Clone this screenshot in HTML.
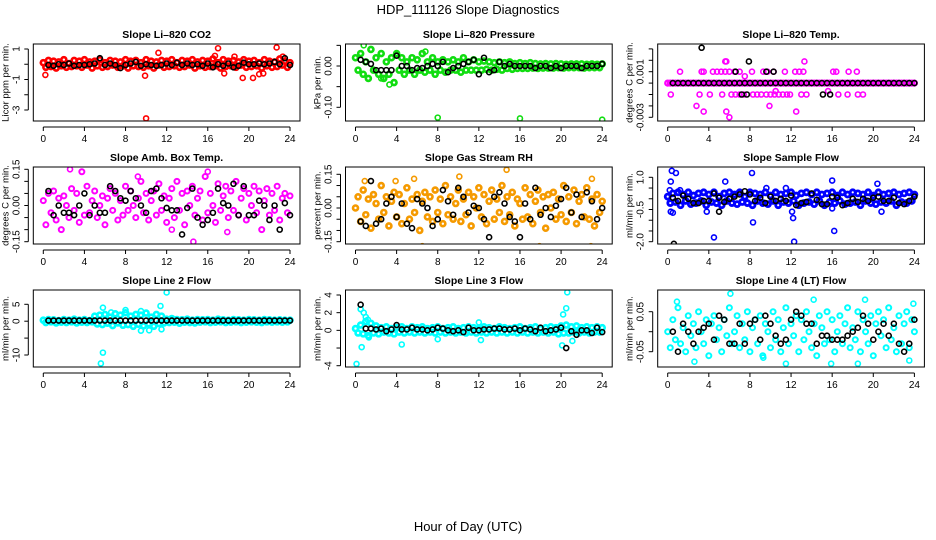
<!DOCTYPE html>
<html><head><meta charset="utf-8"><style>
html,body{margin:0;padding:0;background:#fff;}
svg{display:block;font-family:"Liberation Sans",Arial,sans-serif;}
</style></head>
<body>
<svg id="chart" width="936" height="540" viewBox="0 0 936 540" xmlns="http://www.w3.org/2000/svg">
<text x="468" y="14" text-anchor="middle" font-size="13">HDP_111126  Slope Diagnostics</text>
<text x="468" y="531" text-anchor="middle" font-size="13">Hour of Day (UTC)</text>
</svg>
<script>
const xTicks=[0,4,8,12,16,20,24];
// colored series: values every 15 min from 0 to 24 h
const co2Colored=[0.1,-0.2,0.25,-0.15,0.2,-0.25,0.15,-0.1,0.3,-0.2,0.05,-0.15,0.25,-0.1,0.2,-0.2,0.3,-0.05,0.15,-0.25,0.2,-0.1,0.3,-0.2,0.1,-0.15,0.25,-0.05,0.2,-0.2,0.15,-0.1,0.3,-0.25,0.2,-0.1,0.25,-0.15,0.1,-0.2,0.3,-0.1,0.2,-0.25,0.15,-0.05,0.25,-0.2,0.2,-0.15,0.3,-0.1,0.1,-0.2,0.25,-0.15,0.2,-0.05,0.3,-0.25,0.15,-0.1,0.25,-0.2,0.2,-0.15,0.35,-0.1,0.1,-0.25,0.3,-0.15,0.2,-0.1,0.25,-0.2,0.15,-0.05,0.3,-0.2,0.2,-0.15,0.25,-0.1,0.1,-0.25,0.3,-0.1,0.2,-0.2,0.15,-0.15,0.35,-0.05,0.2,-0.2,0.1];
const co2Black=[-0.05,-0.1,0.0,-0.05,0.05,-0.1,-0.05,-0.05,0.0,0.05,0.4,-0.05,0.05,-0.05,-0.25,-0.05,0.05,0.15,-0.1,0.0,-0.05,-0.1,-0.05,0.05,-0.05,0.1,-0.05,0.05,-0.05,0.0,-0.1,0.05,-0.2,0.0,-0.1,0.05,-0.2,-0.1,0.1,0.0,0.0,0.05,0.0,0.05,0.15,0.0,0.4,-0.05];
const co2OutX=[0.2,10,9.9,11.2,17,22.7,19.4,20.4,21,16.7,18.6,23.3,17.6,21.4];
const co2OutY=[-0.7,-3.55,-0.75,0.75,1.05,1.1,-0.9,-0.9,-0.65,0.55,0.5,0.5,-0.6,-0.6];

const presColored=[0.02,-0.01,0.03,-0.02,0.01,-0.03,0.04,-0.01,0.02,-0.02,0.03,-0.03,0.01,-0.02,0.02,-0.04,0.03,-0.01,0.02,-0.02,0.01,-0.01,0.02,-0.02,0.015,-0.01,0.03,-0.015,0.01,-0.01,0.02,-0.02,0.01,-0.01,0.015,-0.015,0.01,-0.01,0.015,-0.01,0.01,-0.015,0.02,-0.01,0.01,-0.01,0.015,-0.01,0.01,-0.01,0.012,-0.008,0.01,-0.01,0.008,-0.008,0.01,-0.01,0.008,-0.006,0.01,-0.008,0.006,-0.006,0.008,-0.006,0.006,-0.006,0.008,-0.005,0.006,-0.006,0.005,-0.005,0.006,-0.005,0.005,-0.005,0.006,-0.004,0.005,-0.005,0.004,-0.004,0.005,-0.004,0.005,-0.004,0.005,-0.005,0.004,-0.004,0.005,-0.004,0.004,-0.004,0.005];
const presBlack=[0.015,0.01,0.005,-0.01,-0.01,-0.01,-0.01,0.025,0.0,0.0,-0.01,-0.005,-0.005,0.0,0.005,0.0,0.01,-0.015,-0.005,0.0,0.005,0.01,0.015,-0.02,0.02,-0.015,-0.01,0.01,0.0,0.005,0.0,0.0,0.0,0.0,-0.005,0.0,0.0,-0.005,0.0,-0.005,0.0,0.0,0.0,-0.005,0.0,0.0,0.0,0.005];
const presOutX=[8,16,24,0.8,3.3,6.8,2.5];
const presOutY=[-0.125,-0.127,-0.13,0.05,-0.045,0.035,-0.03];

const tempColored=[0,0,0,0,0,0,0,0,0,0,0,0,0,0,0,0,0,0,0,0,0,0,0,0,0,0,0,0,0,0,0,0,0,0,0,0,0,0,0,0,0,0,0,0,0,0,0,0,0,0,0,0,0,0,0,0,0,0,0,0,0,0,0,0,0,0,0,0,0,0,0,0,0,0,0,0,0,0,0,0,0,0,0,0,0,0,0,0,0,0,0,0,0,0,0,0,0];
const tempBlack=[0,0,0,0,0,0,0,0,0,0,0,0,0,0,0,0,0,0,0,0,0,0,0,0,0,0,0,0,0,0,0,0,0,0,0,0,0,0,0,0,0,0,0,0,0,0,0,0];
const tempOutX=[1.2,3.3,3.5,4.4,4.8,5.2,5.6,6.0,6.5,7.0,8.2,9.3,9.7,10.3,11.4,12.4,12.8,13.2,16.1,16.4,17.6,18.4,5.6,5.7,13.3,0.3,3.1,4.1,5.3,6.2,6.6,7.0,7.4,8.3,8.7,9.1,9.6,10.0,10.4,10.8,11.2,11.6,11.9,13.0,13.5,16.6,17.5,18.5,19.0,2.8,9.9,3.5,5.7,12.5,6.0,10.5,15.6,7.5];
const tempOutY=[0.001,0.001,0.001,0.001,0.001,0.001,0.001,0.001,0.001,0.001,0.001,0.001,0.001,0.001,0.001,0.001,0.001,0.001,0.001,0.001,0.001,0.001,0.0019,0.0019,0.0019,-0.001,-0.001,-0.001,-0.001,-0.001,-0.001,-0.001,-0.001,-0.001,-0.001,-0.001,-0.001,-0.001,-0.001,-0.001,-0.001,-0.001,-0.001,-0.001,-0.001,-0.001,-0.001,-0.001,-0.001,-0.002,-0.002,-0.0025,-0.0025,-0.0025,-0.003,-0.0007,-0.0007,0.0006];
const tempBlackOutX=[3.3,15.1,15.8,7.2,7.7,6.6,9.6,10.3,7.9];
const tempBlackOutY=[0.0031,-0.001,-0.001,-0.001,-0.001,0.001,0.001,0.001,0.0019];

const ambColored=[0.02,-0.08,0.05,-0.03,0.06,-0.06,0.03,-0.1,0.04,0.0,-0.05,0.07,-0.02,0.05,-0.07,0.14,-0.04,0.08,-0.03,0.02,0.06,-0.05,0.0,0.04,-0.08,0.03,0.07,-0.02,0.05,-0.06,0.02,-0.04,0.08,-0.02,0.06,0.0,-0.05,0.03,0.1,-0.03,0.05,-0.06,0.02,0.06,-0.04,0.09,-0.02,0.04,-0.07,0.03,0.07,-0.05,0.1,-0.02,0.05,-0.08,0.06,0.0,0.08,-0.04,0.03,0.06,-0.06,0.12,-0.03,0.05,0.0,-0.07,0.09,-0.02,0.04,0.08,-0.05,0.06,-0.02,0.1,-0.04,0.03,0.07,-0.06,0.05,0.0,0.08,-0.03,0.06,-0.1,0.02,0.07,-0.04,0.05,-0.02,0.08,-0.06,0.03,0.05,-0.03,0.04];
const ambBlack=[0.06,-0.04,0.0,-0.03,-0.03,-0.04,0.0,0.05,-0.04,0.0,-0.03,-0.03,0.08,0.06,0.03,0.02,0.06,0.03,0.0,-0.03,0.06,0.07,0.03,-0.01,-0.02,-0.02,-0.12,-0.01,0.07,-0.05,-0.08,-0.06,-0.03,0.07,0.01,-0.0,0.09,-0.04,0.08,-0.04,-0.04,0.02,0.0,-0.06,0.0,-0.1,0.01,-0.04];
const ambOutX=[2.6,14.6,9.2,16,12.5,17.9];
const ambOutY=[0.15,-0.15,0.12,0.14,-0.1,-0.11];

const rhColored=[0.0,0.05,-0.06,0.08,-0.03,0.04,-0.09,0.06,0.02,-0.05,0.1,-0.02,0.05,-0.08,0.03,0.07,-0.04,0.06,-0.07,0.02,0.09,-0.05,0.04,-0.02,0.06,-0.1,0.03,0.07,-0.04,0.05,-0.06,0.08,-0.02,0.04,-0.07,0.1,-0.03,0.05,-0.05,0.02,0.08,-0.06,0.04,-0.03,0.07,-0.08,0.05,0.0,0.09,-0.04,0.06,-0.07,0.03,0.08,-0.05,0.04,-0.02,0.1,-0.06,0.05,-0.03,0.07,-0.08,0.04,0.02,-0.05,0.09,-0.04,0.06,-0.07,0.03,0.08,-0.02,0.05,-0.09,0.06,0.0,0.07,-0.05,0.04,-0.03,0.1,-0.06,0.05,-0.02,0.08,-0.07,0.03,0.06,-0.04,0.09,-0.05,0.04,-0.08,0.06,-0.02,0.03];
const rhBlack=[-0.06,-0.08,0.12,-0.07,-0.05,0.02,0.05,-0.04,0.02,-0.07,-0.09,0.04,0.02,0.0,-0.08,-0.05,0.08,0.03,-0.03,0.09,0.05,-0.02,0.01,0.0,-0.05,-0.13,0.05,0.07,0.02,-0.04,-0.06,-0.13,0.02,-0.05,0.09,-0.03,0.0,-0.04,0.01,0.04,0.09,-0.02,0.06,-0.04,0.07,0.03,-0.05,0.0];
const rhOutX=[4.0,6.5,14.7,0.9,3.9,5.7,10.1,17.9,22.9,23.0];
const rhOutY=[-0.2,-0.17,0.17,0.12,0.12,0.13,0.14,-0.17,-0.17,0.13];

const flowColored=[0.1,-0.2,0.25,-0.15,0.3,-0.3,0.2,-0.1,0.3,-0.25,0.15,-0.2,0.25,-0.1,0.3,-0.3,0.2,-0.15,0.3,-0.2,0.1,-0.3,0.25,-0.1,0.3,-0.2,0.2,-0.25,0.3,-0.15,0.1,-0.2,0.3,-0.3,0.25,-0.1,0.2,-0.2,0.3,-0.25,0.15,-0.1,0.3,-0.3,0.2,-0.15,0.25,-0.2,0.3,-0.1,0.15,-0.3,0.25,-0.2,0.3,-0.15,0.2,-0.25,0.3,-0.1,0.2,-0.3,0.25,-0.15,0.3,-0.2,0.15,-0.1,0.3,-0.25,0.2,-0.2,0.3,-0.15,0.25,-0.3,0.2,-0.1,0.3,-0.2,0.15,-0.25,0.3,-0.15,0.2,-0.2,0.25,-0.1,0.3,-0.3,0.2,-0.15,0.25,-0.2,0.3,-0.1,0.2];
const flowBlack=[0.05,-0.1,0.15,0.0,-0.2,-0.2,-0.1,-0.1,0.25,0.05,-0.15,0.0,0.1,0.2,0.35,0.2,-0.1,0.05,-0.2,0.1,-0.1,0.0,-0.1,0.15,-0.3,-0.2,-0.15,0.25,-0.05,-0.25,-0.25,0.1,0.05,-0.3,-0.2,0.0,-0.15,0.0,-0.1,0.05,0.1,-0.1,-0.1,0.05,-0.2,-0.25,-0.1,0.1];
const flowOutX=[0.4,0.3,0.8,0.2,0.3,0.5,1.2,4.5,5.6,8.2,8.3,9.6,11.5,12.1,12.2,12.3,16,16.2,16,20.4,20.8,3.8];
const flowOutY=[1.3,0.8,1.2,0.4,-0.6,-0.65,0.4,-1.8,0.8,1.2,-1.1,0.5,0.5,-0.6,-0.9,-2.0,0.85,-1.5,-0.45,0.7,-0.6,-0.6];
const flowBlackOutX=[0.6,5.0];
const flowBlackOutY=[-2.1,-0.6];

const l2Colored=[0.3,-0.4,0.5,-0.2,0.4,-0.5,0.2,-0.3,0.5,-0.4,0.3,-0.2,0.6,-0.5,0.3,-0.3,0.5,-0.4,0.2,-0.2,1.5,-0.8,1.8,-1.0,2.0,-0.6,1.2,-1.3,2.2,-0.5,1.8,-1.2,2.5,-1.0,1.5,-1.5,2.0,-0.9,1.8,-1.4,2.4,-0.8,1.2,-1.5,2.0,-0.7,1.5,-0.5,0.6,-0.4,0.8,-0.3,0.5,-0.6,0.4,-0.3,0.6,-0.4,0.3,-0.5,0.5,-0.3,0.4,-0.2,0.5,-0.4,0.3,-0.3,0.6,-0.2,0.4,-0.4,0.3,-0.3,0.5,-0.2,0.4,-0.4,0.3,-0.3,0.5,-0.2,0.4,-0.3,0.3,-0.4,0.5,-0.2,0.4,-0.3,0.3,-0.2,0.4,-0.3,0.3,-0.2,0.3];
const l2Black=[0.2,0.2,0.2,0.2,0.2,0.2,0.2,0.2,0.2,0.2,0.2,0.2,0.2,0.2,0.2,0.2,0.2,0.2,0.2,0.2,0.2,0.2,0.2,0.2,0.2,0.2,0.2,0.2,0.2,0.2,0.2,0.2,0.2,0.2,0.2,0.2,0.2,0.2,0.2,0.2,0.2,0.2,0.2,0.2,0.2,0.2,0.2,0.2];
const l2OutX=[5.6,5.8,5.8,12,11.4,9.5,9.5,10.3,8.0,11.5,6.6];
const l2OutY=[-12.5,-9.3,4,8.5,4.5,3,-2.8,-2.7,3.3,-2.4,2.6];

const l3Colored=[0.2,-0.3,0.6,-0.4,1.0,-0.6,0.8,-0.3,0.5,-0.4,0.3,-0.2,0.4,-0.3,0.2,-0.4,0.3,-0.2,0.4,-0.3,0.2,-0.2,0.4,-0.3,0.3,-0.2,0.4,-0.3,0.2,-0.2,0.3,-0.3,0.4,-0.2,0.2,-0.3,0.3,-0.2,0.4,-0.3,0.2,-0.2,0.3,-0.3,0.4,-0.2,0.3,-0.3,0.2,-0.2,0.4,-0.3,0.3,-0.2,0.2,-0.3,0.4,-0.2,0.3,-0.3,0.2,-0.2,0.3,-0.3,0.4,-0.2,0.2,-0.3,0.3,-0.2,0.4,-0.3,0.2,-0.2,0.3,-0.3,0.4,-0.2,0.3,-0.4,0.5,-0.3,0.6,-0.3,0.4,-0.2,0.5,-0.3,0.3,-0.2,0.4,-0.3,0.3,-0.2,0.4,-0.2,0.3];
const l3Black=[2.9,0.2,0.2,0.1,0.2,-0.1,0.1,0.6,0.1,0.1,0.3,0.1,0.1,0.0,0.1,0.3,0.2,0.0,-0.1,0.0,-0.2,0.3,0.0,0.0,0.1,0.1,0.2,0.2,0.1,0.1,0.2,0.0,0.2,0.1,-0.1,0.3,-0.1,0.0,0.1,0.3,-2.0,-0.1,-0.5,0.0,0.0,-0.3,0.3,-0.2];
const l3OutX=[0.1,0.5,0.6,0.8,1.0,1.2,1.3,4.5,8.0,12.2,12.0,20.1,20.2,20.5,20.6,21.1];
const l3OutY=[-3.8,2.4,-1.9,2.0,1.5,1.2,-0.8,-1.6,-1.0,-1.1,0.9,-1.7,1.8,2.5,4.3,-1.2];

const l4Colored=[0.0,-0.04,0.03,-0.02,0.06,-0.03,0.01,-0.05,0.04,-0.01,0.02,-0.04,0.05,0.0,-0.03,0.03,-0.06,0.02,0.04,-0.02,0.01,-0.05,0.03,-0.01,0.06,-0.03,0.0,0.04,-0.04,0.02,-0.02,0.05,-0.05,0.01,0.03,-0.03,0.04,-0.06,0.02,0.0,-0.04,0.05,-0.02,0.03,-0.05,0.01,0.06,-0.03,0.02,-0.01,0.04,-0.05,0.03,-0.02,0.05,0.0,-0.04,0.02,-0.06,0.04,0.01,-0.03,0.05,-0.02,0.03,-0.05,0.0,0.04,-0.03,0.02,0.06,-0.04,0.01,-0.02,0.05,-0.05,0.03,0.0,-0.03,0.04,-0.06,0.02,0.05,-0.01,0.03,-0.04,0.06,-0.02,0.01,-0.05,0.04,-0.03,0.02,0.05,-0.04,0.03,0.0];
const l4Black=[0.0,-0.05,0.02,0.0,-0.03,0.0,0.01,0.02,-0.02,0.04,0.03,-0.03,-0.03,0.02,-0.03,0.02,0.03,-0.02,0.04,0.02,-0.01,-0.03,-0.02,0.03,0.05,0.04,0.02,0.02,-0.03,-0.01,-0.01,-0.02,-0.02,-0.02,-0.01,0.0,0.01,0.04,0.02,-0.02,0.0,0.02,-0.01,0.02,-0.03,-0.05,-0.03,0.03];
const l4OutX=[6.1,0.9,19.2,2.6,11.5,15.9,18.5,23.5,23.9,9.3,14.2];
const l4OutY=[0.095,0.075,0.08,-0.075,-0.08,-0.08,-0.08,-0.072,0.07,-0.065,0.08];

const yTicksAll=[[1,0,-1,-2,-3],[0.05,0,-0.05,-0.1],[0.003,0.002,0.001,0,-0.001,-0.002,-0.003],[0.15,0.1,0.05,0,-0.05,-0.1,-0.15],[0.15,0.1,0.05,0,-0.05,-0.1,-0.15],[1,0.5,0,-0.5,-1,-1.5,-2],[5,0,-5,-10],[4,2,0,-2,-4],[0.05,0,-0.05]];
const yLabelsAll=[[["1",1],["-1",-1],["-3",-3]],[["0.00",0],["-0.10",-0.1]],[["0.001",0.001],["-0.003",-0.003]],[["0.15",0.15],["0.00",0],["-0.15",-0.15]],[["0.15",0.15],["0.00",0],["-0.15",-0.15]],[["1.0",1],["-0.5",-0.5],["-2.0",-2]],[["5",5],["0",0],["-10",-10]],[["4",4],["2",2],["0",0],["-4",-4]],[["0.05",0.05],["-0.05",-0.05]]];

const panels=[
 {name:'co2',title:'Slope Li\u2013820 CO2',ylab:'Licor ppm per min.',color:'#ff0000',sw:2.6,col:0,row:0,a:[1,49],b:[-3,110],c:co2Colored,k:co2Black,ox:co2OutX,oy:co2OutY},
 {name:'pressure',title:'Slope Li\u2013820 Pressure',ylab:'kPa per min.',color:'#11dd11',sw:2.6,col:1,row:0,a:[0,66],b:[-0.1,107.3],c:presColored,k:presBlack,ox:presOutX,oy:presOutY},
 {name:'temp',title:'Slope Li\u2013820 Temp.',ylab:'degrees C per min.',color:'#ff00ff',sw:2.2,col:2,row:0,a:[0.001,71.7],b:[-0.003,117.3],c:tempColored,k:tempBlack,ox:tempOutX,oy:tempOutY,bx:tempBlackOutX,by:tempBlackOutY},
 {name:'amb-box-temp',title:'Slope Amb. Box Temp.',ylab:'degrees C per min.',color:'#ff00ff',sw:2.0,col:0,row:1,a:[0.15,169.3],b:[-0.15,241.7],c:ambColored,k:ambBlack,ox:ambOutX,oy:ambOutY},
 {name:'gas-stream-rh',title:'Slope Gas Stream RH',ylab:'percent per min.',color:'#f59a00',sw:2.6,col:1,row:1,a:[0.15,174.3],b:[-0.15,241.7],c:rhColored,k:rhBlack,ox:rhOutX,oy:rhOutY},
 {name:'sample-flow',title:'Slope Sample Flow',ylab:'ml/min per min.',color:'#0000ff',sw:2.8,col:2,row:1,a:[1,177.3],b:[-2,241.7],c:flowColored,k:flowBlack,ox:flowOutX,oy:flowOutY,bx:flowBlackOutX,by:flowBlackOutY},
 {name:'line2-flow',title:'Slope Line 2 Flow',ylab:'ml/min per min.',color:'#00ffff',sw:2.6,col:0,row:2,a:[5,304.3],b:[-10,355],c:l2Colored,k:l2Black,ox:l2OutX,oy:l2OutY},
 {name:'line3-flow',title:'Slope Line 3 Flow',ylab:'ml/min per min.',color:'#00ffff',sw:2.6,col:1,row:2,a:[4,295],b:[-4,365.7],c:l3Colored,k:l3Black,ox:l3OutX,oy:l3OutY},
 {name:'line4-flow',title:'Slope Line 4 (LT) Flow',ylab:'ml/min per min.',color:'#00ffff',sw:2.0,col:2,row:2,a:[0.05,311.7],b:[-0.05,351.7],c:l4Colored,k:l4Black,ox:l4OutX,oy:l4OutY}
];

const NS='http://www.w3.org/2000/svg';
const svg=document.getElementById('chart');
function mk(tag,attrs,parent){const e=document.createElementNS(NS,tag);for(const k in attrs)e.setAttribute(k,attrs[k]);parent.appendChild(e);return e;}
const colX0=[43.3,355.5,667.7], rowTop=[44,167,290], pph=246.7/24, boxH=77;

panels.forEach((p,pi)=>{
  const g=mk('g',{},svg);
  
  
  const x0=colX0[p.col], top=rowTop[p.row], bot=top+boxH;
  const X=h=>x0+h*pph;
  const k=(p.b[1]-p.a[1])/(p.b[0]-p.a[0]);
  const Y=v=>p.a[1]+(v-p.a[0])*k;
  const left=x0-10,right=x0+246.7+10;
  const clipId='clip'+pi;
  const cp=mk('clipPath',{id:clipId},g);mk('rect',{x:left,y:top,width:right-left,height:boxH},cp);
  const t=mk('text',{x:(left+right)/2,y:top-6,'text-anchor':'middle','font-size':'10.5','font-weight':'bold'},g);t.textContent=p.title;
  
  
  const pts=mk('g',{'clip-path':'url(#'+clipId+')',fill:'none'},g);
  
  
  p.c.forEach((v,i)=>{const c=mk('circle',{cx:X(i*0.25),cy:Y(v),r:2.5,stroke:p.color,'stroke-width':p.sw},pts);
    
    });
  p.ox.forEach((h,i)=>{const c=mk('circle',{cx:X(h),cy:Y(p.oy[i]),r:2.5,stroke:p.color,'stroke-width':1.6},pts);
    
    });
  p.k.forEach((v,i)=>{const c=mk('circle',{cx:X(0.5+i*0.5),cy:Y(v),r:2.5,stroke:'#000','stroke-width':1.6},pts);
    
    });
  if(p.bx)p.bx.forEach((h,i)=>{const c=mk('circle',{cx:X(h),cy:Y(p.by[i]),r:2.5,stroke:'#000','stroke-width':1.6},pts);
    
    });
  const box=mk('rect',{x:left,y:top,width:right-left,height:boxH,fill:'none',stroke:'#000','stroke-width':1},g);
  
  
  const ax=mk('g',{stroke:'#000','stroke-width':1},g);
  
  
  mk('line',{x1:X(0),x2:X(24),y1:bot+6,y2:bot+6},ax);
  xTicks.forEach(h=>{mk('line',{x1:X(h),x2:X(h),y1:bot+6,y2:bot+10},ax);
    const tl=mk('text',{x:X(h),y:bot+21,'text-anchor':'middle','font-size':'10',stroke:'none',fill:'#000'},g);tl.textContent=String(h);
    
    });
  const ay=mk('g',{stroke:'#000','stroke-width':1},g);
  
  
  const yt=yTicksAll[pi];
  const ax_x=left-5;
  mk('line',{x1:ax_x,x2:ax_x,y1:Y(yt[0]),y2:Y(yt[yt.length-1])},ay);
  yt.forEach(v=>mk('line',{x1:ax_x-4,x2:ax_x,y1:Y(v),y2:Y(v)},ay));
  yLabelsAll[pi].forEach(([s,v])=>{const lx=left-14,ly=Y(v);
    const tl=mk('text',{x:lx,y:ly,'text-anchor':'middle','font-size':'10',transform:'rotate(-90 '+lx+' '+ly+')'},g);tl.textContent=s;
    
    });
  const yx=left-25, yy=top+boxH/2;
  const yl=mk('text',{x:yx,y:yy,'text-anchor':'middle','font-size':'9.5',transform:'rotate(-90 '+yx+' '+yy+')'},g);yl.textContent=p.ylab;
  
  
});
</script>
</body></html>
